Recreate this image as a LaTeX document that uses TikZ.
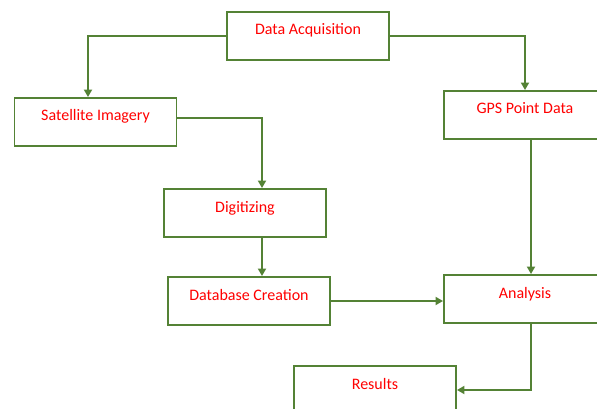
\documentclass[tikz,border=0pt]{standalone}
\usepackage{fontspec}
\setmainfont{Carlito}
\usetikzlibrary{arrows.meta,calc}
\definecolor{LineClr}{RGB}{84,130,53}
\definecolor{TextClr}{RGB}{255,0,0}

\begin{document}
\begin{tikzpicture}[x=1pt,y=-1pt,
  Box/.style={draw=LineClr,line width=1.9pt,text=TextClr,font=\fontsize{16}{19}\selectfont,
    minimum width=162pt,minimum height=48pt,inner sep=0pt,text height=11pt,text depth=13pt},
  Link/.style={draw=LineClr,line width=1.9pt,-{Triangle[length=7.5pt,width=8pt]}},
  Thick/.style={Link,line width=2.8pt}]
\useasboundingbox (0,0) rectangle (597,409);
\clip (0,0) rectangle (597,409);

\node[Box] (Acq) at (308,36) {Data Acquisition};
\node[Box] (Sat) at (95.5,122) {Satellite Imagery};
\node[Box] (Gps) at (525,115) {GPS Point Data};
\node[Box] (Dig) at (245,213) {Digitizing};
\node[Box] (Db) at (249,301) {Database Creation};
\node[Box] (Ana) at (525,299) {Analysis};
\node[Box] (Res) at (375,390) {Results};

\draw[Link] (Acq.west) -| ([xshift=-7.5pt]Sat.north);
\draw[Link] (Acq.east) -| (Gps.north);
\draw[Link] ([yshift=4pt]Sat.east) -| ([xshift=17pt]Dig.north);
% vertical ones
\draw[Thick] ([xshift=17pt]Dig.south) -- ([xshift=17pt]Dig.south |- Db.north);
\draw[Thick] ([xshift=6pt]Gps.south) -- ([xshift=6pt]Gps.south |- Ana.north);
\draw[Thick] (Db.east) -- (Db.east -| Ana.west);
\draw[Thick] ([xshift=6pt]Ana.south) |- (Res.east);

\end{tikzpicture}
\end{document}
